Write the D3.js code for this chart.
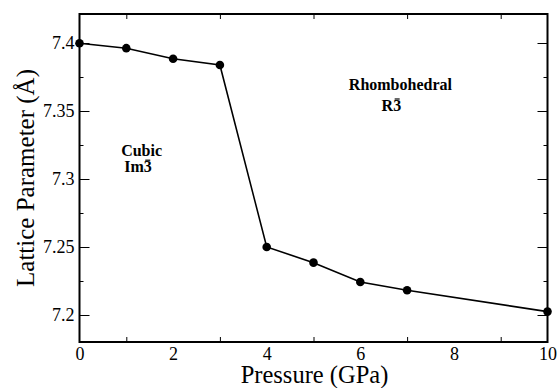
<!DOCTYPE html>
<html><head><meta charset="utf-8">
<script src="https://cdn.jsdelivr.net/npm/d3@7"></script>
<style>body{margin:0;background:#fff}svg{display:block}</style>
</head><body><svg id="c" width="557" height="388"></svg>
<script>
const pressure = [0, 1, 2, 3, 4, 5, 6, 7, 10];
const lattice = [7.3998, 7.3962, 7.3884, 7.3838, 7.2500, 7.2385, 7.2243, 7.2182, 7.2025];
const yTicks = [7.2, 7.25, 7.3, 7.35, 7.4];
const yTickLabels = ["7.2", "7.25", "7.3", "7.35", "7.4"];
const yMinor = [7.225, 7.275, 7.325, 7.375];
const xTicks = [0, 2, 4, 6, 8, 10];
const xMinor = [1, 3, 5, 7, 9];

const FONT = '"Liberation Serif"';
const svg = d3.select("#c");
const L = 79.5, R = 547.5, T = 14, B = 342;
const x = d3.scaleLinear().domain([0, 10]).range([L, R]);
const y = d3.scaleLinear().domain([7.2, 7.4]).range([315, 43]);

function clean(g) { g.selectAll(".domain").remove(); g.attr("font-family", FONT); g.selectAll("text").attr("font-family", FONT).attr("fill", "#000"); return g; }

clean(svg.append("g").attr("transform", `translate(0,${B})`)
  .call(d3.axisBottom(x).tickValues(xTicks).tickFormat(d => d).tickSize(0).tickPadding(5)))
  .selectAll("text").attr("font-size", 18);
clean(svg.append("g").attr("transform", `translate(0,${B})`)
  .call(d3.axisTop(x).tickValues(xMinor).tickFormat("").tickSize(5)));
clean(svg.append("g").attr("transform", `translate(0,${T})`)
  .call(d3.axisBottom(x).tickValues(xMinor).tickFormat("").tickSize(5)));

clean(svg.append("g").attr("transform", `translate(${L},0)`)
  .call(d3.axisRight(y).tickValues(yTicks).tickFormat("").tickSize(10)));
clean(svg.append("g").attr("transform", `translate(${L},0)`)
  .call(d3.axisRight(y).tickValues(yMinor).tickFormat("").tickSize(4)));
clean(svg.append("g").attr("transform", `translate(${L},0)`)
  .call(d3.axisLeft(y).tickValues(yTicks).tickFormat((d, i) => yTickLabels[i]).tickSize(0).tickPadding(5)))
  .selectAll("text").attr("font-size", 18);

clean(svg.append("g").attr("transform", `translate(${R},0)`)
  .call(d3.axisLeft(y).tickValues(yTicks).tickFormat("").tickSize(10)));
clean(svg.append("g").attr("transform", `translate(${R},0)`)
  .call(d3.axisLeft(y).tickValues(yMinor).tickFormat("").tickSize(4)));
svg.selectAll(".tick line").attr("stroke", "#000").attr("stroke-width", 1);

svg.append("rect").attr("x", L).attr("y", T).attr("width", R - L).attr("height", B - T)
  .attr("fill", "none").attr("stroke", "#000").attr("stroke-width", 2);

const data = pressure.map((p, i) => [p, lattice[i]]);
svg.append("path").datum(data)
  .attr("d", d3.line().x(d => x(d[0])).y(d => y(d[1])))
  .attr("fill", "none").attr("stroke", "#000").attr("stroke-width", 1.6);
svg.selectAll("circle.pt").data(data).join("circle").attr("class", "pt")
  .attr("cx", d => x(d[0])).attr("cy", d => y(d[1])).attr("r", 4.3).attr("fill", "#000");

svg.append("text").attr("x", (L + R) / 2 + 1).attr("y", 382.5).attr("text-anchor", "middle")
  .attr("font-family", FONT).attr("font-size", 24.5).text("Pressure (GPa)");
svg.append("text").attr("transform", `translate(34,${(T + B) / 2}) rotate(-90)`).attr("text-anchor", "middle")
  .attr("font-family", FONT).attr("font-size", 25).text("Lattice Parameter (Å)");

const ann = [
  {t: "Cubic", bar: "", px: 0.89, v: 7.317},
  {t: "Im", bar: "3", px: 0.955, v: 7.305},
  {t: "Rhombohedral", bar: "", px: 5.755, v: 7.3655},
  {t: "R", bar: "3", px: 6.455, v: 7.350}
];
const at = svg.selectAll("text.ann").data(ann).join("text").attr("class", "ann")
  .attr("x", d => x(d.px)).attr("y", d => y(d.v)).attr("font-family", FONT)
  .attr("font-size", 16).attr("font-weight", "bold");
at.append("tspan").text(d => d.t);
at.filter(d => d.bar).append("tspan").attr("class", "bar").text(d => d.bar);
at.filter(d => d.bar).each(function () {
  const b = d3.select(this).select("tspan.bar").node().getBBox();
  svg.append("line").attr("x1", b.x + 1.5).attr("x2", b.x + b.width - 1.5)
    .attr("y1", b.y + 2).attr("y2", b.y + 2).attr("stroke", "#000").attr("stroke-width", 1.2);
});
</script></body></html>
